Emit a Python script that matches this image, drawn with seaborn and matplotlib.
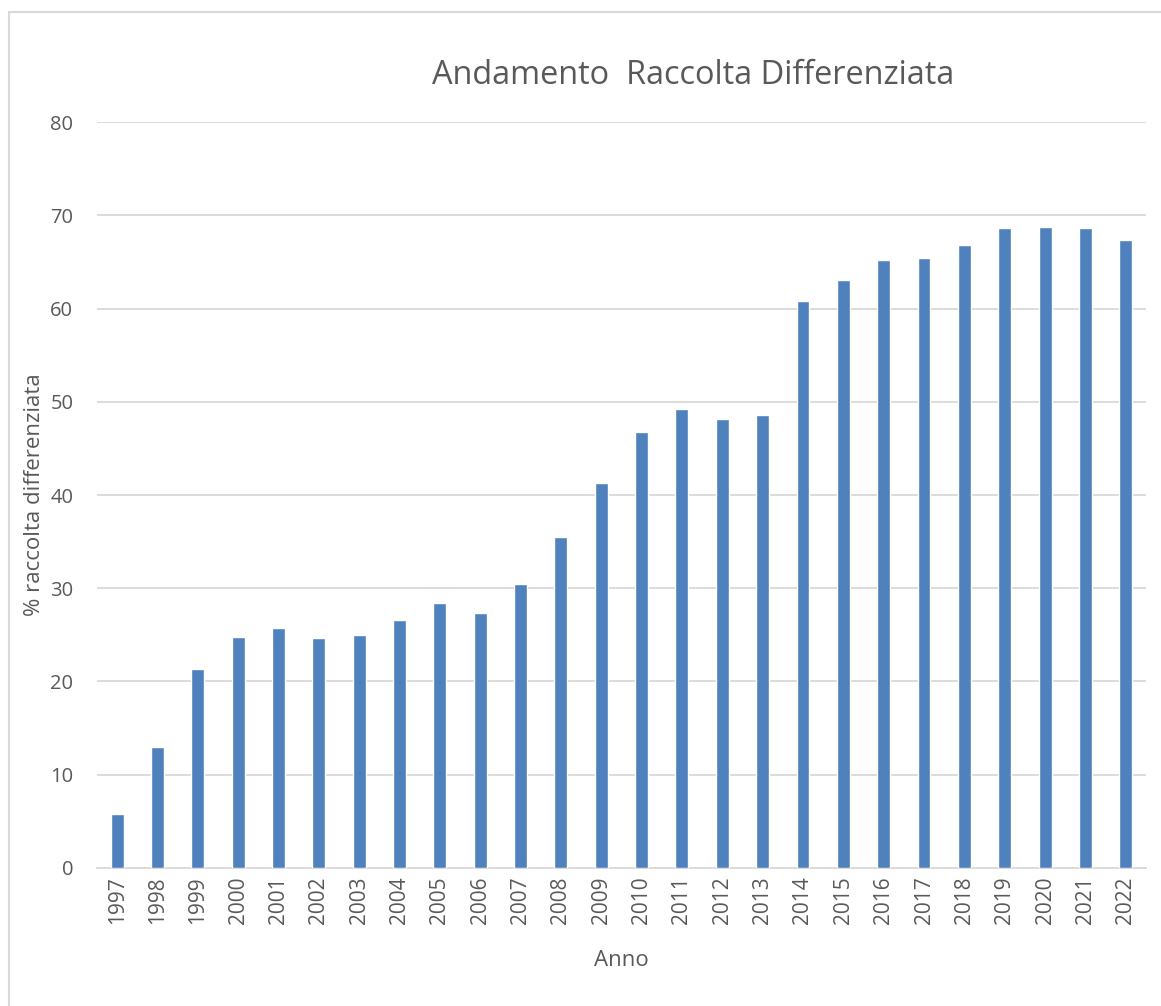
import matplotlib
matplotlib.use('Agg')
import matplotlib.pyplot as plt
import seaborn as sns
import pandas as pd
from matplotlib.patches import Rectangle

# Data
anni = [str(a) for a in range(1997, 2023)]
percentuali = [5.8, 13.0, 21.3, 24.8, 25.7, 24.7, 25.0, 26.6, 28.4, 27.3,
               30.5, 35.5, 41.3, 46.8, 49.2, 48.2, 48.6, 60.8, 63.1, 65.2,
               65.4, 66.8, 68.6, 68.7, 68.6, 67.3]
y_ticks = [0, 10, 20, 30, 40, 50, 60, 70, 80]

df = pd.DataFrame({'Anno': anni, 'perc': percentuali})

sns.set_theme(style='white')
plt.rcParams['font.family'] = ['Open Sans', 'DejaVu Sans']
grey = '#595959'

fig = plt.figure(figsize=(11.61, 10.06), dpi=100)
ax = fig.add_axes([0.0835, 0.1372, 0.9035, 0.7415])

sns.barplot(data=df, x='Anno', y='perc', color='#4F81BD', saturation=1,
            width=0.32, ax=ax, zorder=3)

ax.set_ylim(0, 80)
ax.set_xlim(-0.5, len(anni) - 0.5)
ax.set_yticks(y_ticks)
ax.yaxis.grid(True, color='#d9d9d9', linewidth=1.3, zorder=0)
ax.set_axisbelow(True)
for s in ['top', 'right', 'left']:
    ax.spines[s].set_visible(False)
ax.spines['bottom'].set_color('#d9d9d9')
ax.spines['bottom'].set_linewidth(1.3)

ax.tick_params(axis='x', labelrotation=90, labelsize=15, colors=grey, length=0, pad=6)
ax.tick_params(axis='y', labelsize=14.5, colors=grey, length=0, pad=17)

ax.set_xlabel('Anno', fontsize=16, color=grey, labelpad=19)
ax.set_ylabel('% raccolta differenziata', fontsize=16, color=grey, labelpad=4)

fig.text(0.597, 0.925, 'Andamento  Raccolta Differenziata', fontsize=23.4,
         color=grey, ha='center', va='center')

# light frame around the chart area
fig.patches.append(Rectangle((0.008, -0.01), 1.0, 0.998, transform=fig.transFigure,
                             fill=False, edgecolor='#d9d9d9', linewidth=1.5))

fig.savefig('out.png', dpi=100)
